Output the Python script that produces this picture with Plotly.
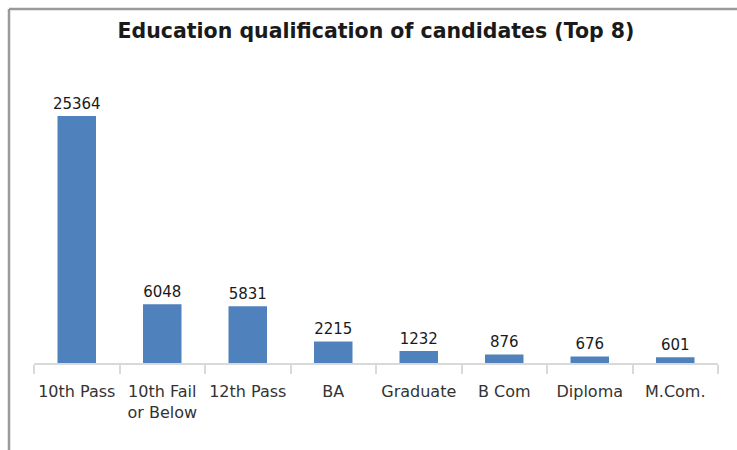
import plotly.graph_objects as go

categories = ["10th Pass", "10th Fail<br>or Below", "12th Pass", "BA", "Graduate", "B Com", "Diploma", "M.Com."]
values = [25364, 6048, 5831, 2215, 1232, 876, 676, 601]
title_text = "Education qualification of candidates (Top 8)"

W, H = 737, 450
L, R, T, B = 34, 19, 71, 87

fig = go.Figure(go.Bar(
    x=categories, y=values,
    marker=dict(color="#4f81bd", line=dict(color="#4f81bd", width=0)),
    text=[str(v) for v in values], textposition="outside",
    textfont=dict(family="DejaVu Sans", size=15, color="#1a1a1a"),
    constraintext="none",
    cliponaxis=False,
))

fig.update_layout(
    width=W, height=H,
    margin=dict(l=L, r=R, t=T, b=B, pad=0),
    paper_bgcolor="white", plot_bgcolor="white",
    bargap=0.55,
    showlegend=False,
    title=dict(text=title_text, x=0.5, xref="paper", y=1 - 31 / H, yanchor="middle",
               font=dict(family="DejaVu Sans", size=20.5, color="#1a1a1a", weight="bold")),
    xaxis=dict(showline=True, linecolor="#d9d9d9", linewidth=1.5,
               ticks="outside", tickson="boundaries", ticklen=9, tickcolor="#d9d9d9", tickwidth=1.5,
               tickangle=0, ticklabelstandoff=13,
               tickfont=dict(family="DejaVu Sans", size=16, color="#333333"),
               showgrid=False),
    yaxis=dict(range=[0, 30000], visible=False, showgrid=False, zeroline=False),
)

pw = W - L - R
ph = H - T - B
x0 = (9 - L) / pw
y1 = (H - B - 9) / ph
fig.add_shape(type="line", xref="paper", yref="paper", x0=x0, x1=(W + 10 - L) / pw, y0=y1, y1=y1,
              line=dict(color="#9a9a9a", width=2.5))
fig.add_shape(type="line", xref="paper", yref="paper", x0=x0, x1=x0, y0=y1, y1=-(B + 10) / ph,
              line=dict(color="#9a9a9a", width=2.5))

fig.write_html("out.html", config={"displayModeBar": False},
               post_script="document.body.style.margin='0';document.body.style.overflow='hidden';")
